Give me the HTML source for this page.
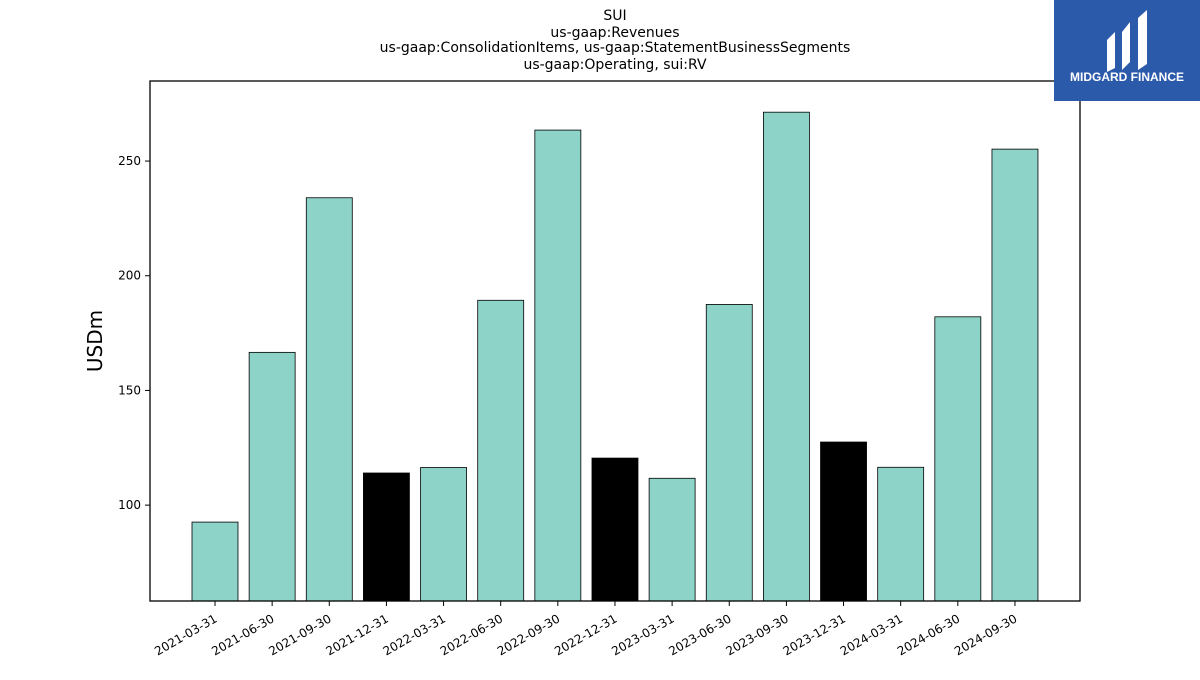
<!DOCTYPE html>
<html><head><meta charset="utf-8"><style>
body{margin:0;background:#fff;width:1200px;height:675px;overflow:hidden;font-family:"Liberation Sans","DejaVu Sans",sans-serif}
</style></head><body>
<svg width="1200" height="675" xmlns="http://www.w3.org/2000/svg">
<g font-family="DejaVu Sans, Liberation Sans, sans-serif" font-size="14" text-anchor="middle" fill="#000">
<text x="615" y="20">SUI</text>
<text x="615" y="37">us-gaap:Revenues</text>
<text x="615" y="52">us-gaap:ConsolidationItems, us-gaap:StatementBusinessSegments</text>
<text x="615" y="69">us-gaap:Operating, sui:RV</text>
</g>
<g id="bars"></g>
<g id="axes"></g>
<text x="102" y="341" font-size="20" font-family="DejaVu Sans, Liberation Sans, sans-serif" text-anchor="middle" transform="rotate(-90 102 341)">USDm</text>
<g>
<rect x="1054" y="0" width="146" height="101" fill="#2c5aab"/>
<path d="M1107 40 L1115 32 L1115 68 L1107 72 Z M1122 32 L1130 22 L1130 62 L1122 70 Z M1138 18 L1147 10 L1147 64 L1138 70 Z" fill="#fff"/>
<text x="1127" y="81" font-size="12" font-weight="bold" fill="#fff" text-anchor="middle" font-family="Liberation Sans, sans-serif">MIDGARD FINANCE</text>
</g>
</svg>
<script>
const categories=["2021-03-31","2021-06-30","2021-09-30","2021-12-31","2022-03-31","2022-06-30","2022-09-30","2022-12-31","2023-03-31","2023-06-30","2023-09-30","2023-12-31","2024-03-31","2024-06-30","2024-09-30"];
const values=[92.6,166.6,234,114,116.4,189.3,263.5,120.5,111.7,187.5,271.3,127.5,116.5,182.1,255.2];
const yTicks=[100,150,200,250];
const NS="http://www.w3.org/2000/svg";
const L=150,R=1080,T=81,B=601,yMin=58.2,yMax=284.9;
const y=v=>B-(v-yMin)/(yMax-yMin)*(B-T);
const step=(R-L)/(categories.length+1.275);
const x=i=>215+i*57.14;
const bars=document.getElementById('bars'),axes=document.getElementById('axes');
function mk(tag,attrs,parent){const e=document.createElementNS(NS,tag);for(const k in attrs)e.setAttribute(k,attrs[k]);parent.appendChild(e);return e;}
categories.forEach((c,i)=>{
 const r=mk('rect',{x:x(i)-23,y:y(values[i]),width:46,height:B-y(values[i]),fill:c.endsWith('12-31')?'#000':'#8dd3c7',stroke:'#000','stroke-width':0.8},bars);
 
 
 mk('line',{x1:x(i),x2:x(i),y1:B,y2:B+5,stroke:'#000'},axes);
 const t=mk('text',{x:x(i)+3,y:B+20,'font-size':12,'text-anchor':'end','font-family':'DejaVu Sans, Liberation Sans, sans-serif',transform:`rotate(-30 ${x(i)+3} ${B+20})`},axes);
 t.textContent=c;
 
 
});
yTicks.forEach(v=>{
 mk('line',{x1:L-5,x2:L,y1:y(v),y2:y(v),stroke:'#000'},axes);
 const t=mk('text',{x:L-9,y:y(v)+4,'font-size':12,'text-anchor':'end','font-family':'DejaVu Sans, Liberation Sans, sans-serif'},axes);
 t.textContent=v;
 
 
});
const f=mk('rect',{x:L,y:T,width:R-L,height:B-T,fill:'none',stroke:'#000','stroke-width':1.3},axes);


</script>
</body></html>
